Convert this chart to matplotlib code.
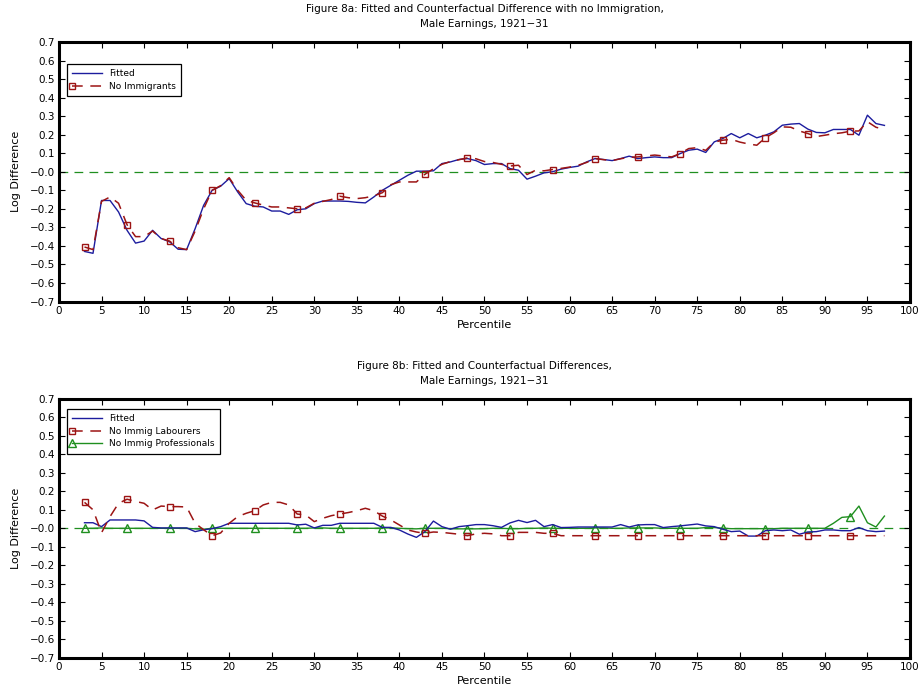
import matplotlib
matplotlib.use('agg')
import matplotlib.pyplot as plt  # noqa

# percentiles 3..97
percentile = list(range(3, 98))

fitted_a = [
    -0.430, -0.440, -0.155, -0.155, -0.217, -0.316, -0.385, -0.374, -0.316, -0.360,
    -0.378, -0.418, -0.420, -0.307, -0.181, -0.100, -0.078, -0.037, -0.109, -0.172,
    -0.186, -0.190, -0.212, -0.212, -0.230, -0.205, -0.200, -0.172, -0.158, -0.158,
    -0.158, -0.160, -0.165, -0.168, -0.136, -0.100, -0.073, -0.046, -0.019, 0.003,
    0.003, 0.005, 0.044, 0.053, 0.066, 0.071, 0.060, 0.039, 0.044, 0.044,
    0.017, 0.008, -0.040, -0.024, -0.006, 0.000, 0.014, 0.023, 0.030, 0.053,
    0.071, 0.066, 0.060, 0.071, 0.084, 0.071, 0.076, 0.080, 0.076, 0.076,
    0.098, 0.116, 0.122, 0.104, 0.161, 0.179, 0.206, 0.183, 0.206, 0.183,
    0.197, 0.215, 0.251, 0.257, 0.260, 0.230, 0.212, 0.210, 0.228, 0.228,
    0.228, 0.197, 0.305, 0.260, 0.250,
]
no_immig = [
    -0.406, -0.420, -0.160, -0.136, -0.170, -0.286, -0.350, -0.350, -0.320, -0.360,
    -0.374, -0.410, -0.420, -0.320, -0.200, -0.100, -0.075, -0.032, -0.100, -0.154,
    -0.168, -0.180, -0.190, -0.190, -0.195, -0.200, -0.195, -0.170, -0.160, -0.150,
    -0.132, -0.140, -0.145, -0.140, -0.130, -0.113, -0.070, -0.055, -0.055, -0.055,
    -0.014, 0.016, 0.040, 0.055, 0.065, 0.075, 0.070, 0.055, 0.050, 0.040,
    0.031, 0.035, -0.015, 0.008, 0.005, 0.012, 0.018, 0.025, 0.035, 0.050,
    0.071, 0.065, 0.060, 0.070, 0.078, 0.080, 0.085, 0.090, 0.085, 0.080,
    0.098, 0.125, 0.130, 0.115, 0.160, 0.170, 0.175, 0.160, 0.150, 0.143,
    0.183, 0.210, 0.242, 0.240, 0.220, 0.206, 0.190, 0.197, 0.205, 0.210,
    0.219, 0.220, 0.270, 0.240, 0.228,
]

fitted_b = [
    0.030, 0.030, 0.009, 0.045, 0.045, 0.045, 0.045, 0.040, 0.005, 0.002,
    0.002, 0.002, 0.002, -0.018, -0.008, -0.002, 0.009, 0.027, 0.027, 0.027,
    0.027, 0.027, 0.027, 0.027, 0.027, 0.018, 0.022, 0.002, 0.016, 0.016,
    0.027, 0.027, 0.027, 0.027, 0.027, 0.005, 0.005, -0.009, -0.031, -0.049,
    -0.018, 0.039, 0.009, -0.005, 0.009, 0.014, 0.020, 0.020, 0.014, 0.005,
    0.029, 0.043, 0.031, 0.043, 0.009, 0.020, 0.004, 0.005, 0.007, 0.007,
    0.007, 0.007, 0.007, 0.020, 0.007, 0.018, 0.020, 0.020, 0.004, 0.009,
    0.013, 0.018, 0.023, 0.013, 0.009, -0.005, -0.018, -0.015, -0.042, -0.042,
    -0.013, -0.009, -0.013, -0.009, -0.032, -0.020, -0.018, -0.009, -0.009, -0.013,
    -0.013, 0.004, -0.013, -0.018, -0.015,
]
no_immig_lab = [
    0.140, 0.100, -0.024, 0.063, 0.135, 0.157, 0.145, 0.135, 0.099, 0.120,
    0.117, 0.117, 0.115, 0.027, -0.008, -0.040, -0.025, 0.027, 0.063, 0.081,
    0.095, 0.126, 0.140, 0.140, 0.126, 0.077, 0.072, 0.036, 0.054, 0.068,
    0.077, 0.085, 0.095, 0.108, 0.095, 0.066, 0.045, 0.018, -0.009, -0.020,
    -0.027, -0.020, -0.022, -0.027, -0.032, -0.040, -0.030, -0.027, -0.030, -0.040,
    -0.040, -0.022, -0.022, -0.022, -0.027, -0.027, -0.040, -0.040, -0.040, -0.040,
    -0.040, -0.040, -0.040, -0.040, -0.040, -0.040, -0.040, -0.040, -0.040, -0.040,
    -0.040, -0.040, -0.040, -0.040, -0.040, -0.040, -0.040, -0.040, -0.040, -0.040,
    -0.040, -0.040, -0.040, -0.040, -0.040, -0.040, -0.040, -0.040, -0.040, -0.040,
    -0.040, -0.040, -0.040, -0.040, -0.040,
]
no_immig_prof = [
    0.000, 0.000, 0.002, 0.000, 0.000, 0.000, 0.000, 0.000, 0.000, 0.000,
    0.000, 0.000, 0.000, -0.003, -0.005, 0.000, 0.000, 0.000, 0.000, 0.000,
    0.000, 0.000, 0.000, 0.000, 0.000, 0.000, 0.000, 0.002, 0.002, 0.000,
    0.000, 0.000, 0.000, 0.000, 0.000, 0.002, 0.002, 0.000, -0.002, -0.003,
    0.000, 0.000, 0.000, -0.002, -0.003, -0.003, -0.003, -0.002, 0.000, 0.000,
    -0.002, -0.002, 0.000, 0.000, 0.002, 0.000, 0.000, 0.000, 0.000, 0.000,
    0.002, 0.002, 0.000, 0.000, 0.002, 0.002, 0.002, 0.002, 0.000, 0.000,
    0.000, 0.000, 0.000, 0.004, 0.004, 0.000, -0.002, -0.002, -0.002, -0.002,
    -0.002, -0.002, 0.000, 0.000, 0.000, 0.000, 0.000, 0.000, 0.027, 0.059,
    0.063, 0.120, 0.030, 0.007, 0.066,
]

x_ticks = list(range(0, 101, 5))
y_ticks = [-0.7, -0.6, -0.5, -0.4, -0.3, -0.2, -0.1, 0.0,
           0.1, 0.2, 0.3, 0.4, 0.5, 0.6, 0.7]
y_labels = ['\u22120.7', '\u22120.6', '\u22120.5', '\u22120.4', '\u22120.3',
            '\u22120.2', '\u22120.1', '\u22120.0', '0.1', '0.2', '0.3',
            '0.4', '0.5', '0.6', '0.7']

BLUE = '#1c1c9e'
RED = '#9c1414'
GREEN = '#1f8f1f'


def style_axes(ax, title):
    ax.set_xlim(0, 100)
    ax.set_ylim(-0.7, 0.7)
    ax.set_xticks(x_ticks)
    ax.set_yticks(y_ticks)
    ax.set_yticklabels(y_labels)
    ax.tick_params(direction='in', top=True, right=True, length=4,
                   width=0.8, labelsize=7.5, pad=3)
    for sp in ax.spines.values():
        sp.set_linewidth(2.2)
    ax.set_xlabel('Percentile', fontsize=8, labelpad=3)
    ax.set_ylabel('Log Difference', fontsize=8, labelpad=6)
    ax.set_title(title, fontsize=7.5, linespacing=1.65, pad=10.5)
    ax.axhline(0, color=GREEN, lw=0.9, dashes=(7, 5), zorder=1)


def add_legend(ax, top):
    leg = ax.legend(loc='upper left', bbox_to_anchor=(0.009, top),
                    borderaxespad=0, fontsize=6.5, fancybox=False,
                    edgecolor='black', framealpha=1, handlelength=3.3,
                    numpoints=1, borderpad=0.6, labelspacing=0.4)
    leg.get_frame().set_linewidth(0.9)
    # marker sits at the left end of the sample line
    for ln in leg.get_lines():
        ln.set_markevery([0])
    return leg


fig = plt.figure(figsize=(9.2, 6.96), dpi=100)
ax1 = fig.add_axes([0.0641, 0.5668, 0.925, 0.3729])
ax2 = fig.add_axes([0.0641, 0.0546, 0.925, 0.3727])

# Figure 8a
style_axes(ax1, 'Figure 8a: Fitted and Counterfactual Difference with no Immigration,\n'
                'Male Earnings, 1921\u221231')
ax1.plot(percentile, fitted_a, color=BLUE, lw=1.0, label='Fitted', zorder=3)
ax1.plot(percentile, no_immig, color=RED, lw=1.1, dashes=(7, 5),
         marker='s', markevery=5, markersize=5, markerfacecolor='none',
         markeredgecolor=RED, markeredgewidth=1.0, label='No Immigrants',
         zorder=4)
add_legend(ax1, 0.915)

# Figure 8b
style_axes(ax2, 'Figure 8b: Fitted and Counterfactual Differences,\n'
                'Male Earnings, 1921\u221231')
ax2.plot(percentile, fitted_b, color=BLUE, lw=1.0, label='Fitted', zorder=3)
ax2.plot(percentile, no_immig_lab, color=RED, lw=1.1, dashes=(7, 5),
         marker='s', markevery=5, markersize=5, markerfacecolor='none',
         markeredgecolor=RED, markeredgewidth=1.0,
         label='No Immig Labourers', zorder=4)
ax2.plot(percentile, no_immig_prof, color=GREEN, lw=1.0,
         marker='^', markevery=5, markersize=5.5, markerfacecolor='none',
         markeredgecolor=GREEN, markeredgewidth=1.0,
         label='No Immig Professionals', zorder=2)
add_legend(ax2, 0.961)

fig.savefig('out.png', dpi=100)
